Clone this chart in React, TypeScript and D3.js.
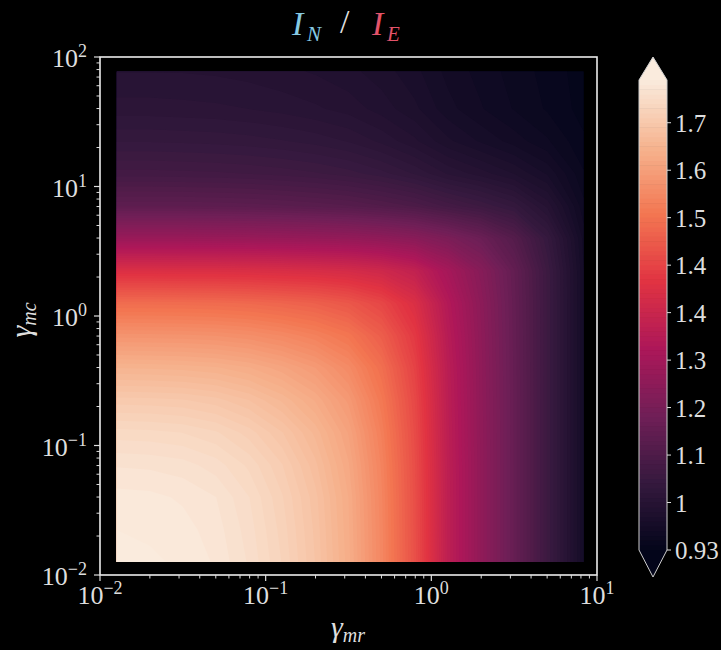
import React, { useMemo } from "react";
import * as d3 from "d3";

// log10(γ_mr) at each grid column
const logGammaMr = [-1.9, -1.7, -1.5, -1.3, -1.1, -0.9, -0.7, -0.5, -0.3, -0.1, 0.1, 0.3, 0.5, 0.7, 0.92];
// log10(γ_mc) at each grid row, bottom to top
const logGammaMc = [-1.9, -1.65, -1.4, -1.15, -0.9, -0.65, -0.4, -0.15, 0.1, 0.35, 0.6, 0.85, 1.1, 1.35, 1.6, 1.89];

// I_N / I_E on the grid: one row per γ_mc (bottom to top), one column per γ_mr
const ratioRows = [
  [1.780, 1.778, 1.776, 1.767, 1.750, 1.725, 1.691, 1.644, 1.568, 1.466, 1.330, 1.236, 1.151, 1.066, 0.973],
  [1.777, 1.776, 1.772, 1.764, 1.747, 1.722, 1.689, 1.642, 1.567, 1.465, 1.330, 1.236, 1.151, 1.066, 0.973],
  [1.772, 1.771, 1.767, 1.760, 1.743, 1.718, 1.686, 1.640, 1.565, 1.464, 1.330, 1.236, 1.151, 1.066, 0.973],
  [1.759, 1.758, 1.755, 1.747, 1.732, 1.709, 1.677, 1.633, 1.561, 1.462, 1.329, 1.236, 1.151, 1.066, 0.973],
  [1.738, 1.737, 1.734, 1.727, 1.713, 1.692, 1.663, 1.622, 1.553, 1.458, 1.327, 1.235, 1.151, 1.066, 0.973],
  [1.704, 1.703, 1.701, 1.695, 1.683, 1.664, 1.639, 1.603, 1.540, 1.452, 1.325, 1.234, 1.151, 1.066, 0.973],
  [1.657, 1.656, 1.654, 1.650, 1.641, 1.626, 1.606, 1.575, 1.522, 1.441, 1.322, 1.233, 1.150, 1.066, 0.973],
  [1.593, 1.592, 1.591, 1.588, 1.582, 1.571, 1.556, 1.534, 1.491, 1.424, 1.315, 1.231, 1.149, 1.066, 0.973],
  [1.517, 1.517, 1.516, 1.514, 1.510, 1.503, 1.494, 1.478, 1.449, 1.397, 1.305, 1.227, 1.148, 1.066, 0.973],
  [1.398, 1.398, 1.397, 1.397, 1.395, 1.392, 1.388, 1.381, 1.367, 1.339, 1.278, 1.216, 1.145, 1.065, 0.973],
  [1.253, 1.253, 1.253, 1.252, 1.251, 1.249, 1.246, 1.242, 1.234, 1.221, 1.194, 1.161, 1.115, 1.051, 0.969],
  [1.134, 1.134, 1.134, 1.133, 1.131, 1.128, 1.124, 1.119, 1.110, 1.099, 1.081, 1.066, 1.047, 1.013, 0.958],
  [1.079, 1.079, 1.078, 1.077, 1.075, 1.072, 1.068, 1.062, 1.053, 1.040, 1.023, 1.011, 0.998, 0.980, 0.948],
  [1.049, 1.049, 1.048, 1.047, 1.045, 1.042, 1.038, 1.032, 1.022, 1.009, 0.992, 0.980, 0.969, 0.957, 0.940],
  [1.028, 1.028, 1.027, 1.026, 1.024, 1.021, 1.017, 1.012, 1.003, 0.992, 0.976, 0.965, 0.955, 0.946, 0.935],
  [1.015, 1.015, 1.015, 1.014, 1.012, 1.009, 1.006, 1.001, 0.994, 0.984, 0.970, 0.961, 0.952, 0.944, 0.934],
];

// colour range of the filled contours
const levelMin = 0.93;
const levelMax = 1.777;
const levelCount = 100;

// colour bar ticks (every tenth contour level)
const cbTickValues = [0.93, 1.0156, 1.1011, 1.1867, 1.2722, 1.3578, 1.4433, 1.5289, 1.6144, 1.7];
const cbTickLabels = ["0.93", "1", "1.1", "1.2", "1.3", "1.4", "1.4", "1.5", "1.6", "1.7"];

// decades on the axes
const xDecades = [-2, -1, 0, 1];
const yDecades = [-2, -1, 0, 1, 2];

// rocket colour map stops
const rocketStops = ["#03051a", "#35193e", "#701f57", "#ad1759", "#e13342", "#f37651", "#f6b48f", "#faebdd"];

const FONT = "'Liberation Serif', 'DejaVu Serif', serif";
const INK = "#dedede";

const W = 721;
const H = 650;
const plot = { left: 100, right: 597, top: 57, bottom: 575 };
const cbar = { left: 639, right: 667, top: 80, bottom: 550, tipTop: 57, tipBottom: 577 };

function supText(e: number) {
  return e < 0 ? "\u2212" + Math.abs(e) : String(e);
}

export default function App() {
  const x = d3.scaleLog().domain([1e-2, 1e1]).range([plot.left, plot.right]);
  const y = d3.scaleLog().domain([1e-2, 1e2]).range([plot.bottom, plot.top]);

  const rocket = d3
    .scaleLinear<string>()
    .domain(rocketStops.map((_, i) => i / (rocketStops.length - 1)))
    .range(rocketStops)
    .interpolate(d3.interpolateRgb)
    .clamp(true);

  const levels = d3.range(levelCount).map((i) => levelMin + (i * (levelMax - levelMin)) / (levelCount - 1));
  const bandColor = (i: number) => {
    if (i >= levels.length - 1) return rocket(1);
    const mid = (levels[i] + levels[i + 1]) / 2;
    return rocket((mid - levelMin) / (levelMax - levelMin));
  };

  const nx = logGammaMr.length;
  const ny = logGammaMc.length;

  const { paths } = useMemo(() => {
    const flat: number[] = [];
    for (let j = ny - 1; j >= 0; j--) flat.push(...ratioRows[j]);
    const contours = d3.contours().size([nx, ny]).thresholds(levels)(flat);
    const colLog = d3.scaleLinear().domain(d3.range(nx)).range(logGammaMr);
    const rowLog = d3.scaleLinear().domain(d3.range(ny)).range(logGammaMc.slice().reverse());
    const clampIdx = (c: number, n: number) => Math.max(0, Math.min(n - 1, c - 0.5));
    const proj = d3.geoTransform({
      point(px: number, py: number) {
        this.stream.point(x(10 ** colLog(clampIdx(px, nx))), y(10 ** rowLog(clampIdx(py, ny))));
      },
    });
    const gp = d3.geoPath(proj);
    return { paths: contours.map((c, i) => ({ d: gp(c as any) || "", fill: bandColor(i) })) };
  }, []);

  const dataX0 = x(10 ** logGammaMr[0]);
  const dataX1 = x(10 ** logGammaMr[nx - 1]);
  const dataY0 = y(10 ** logGammaMc[ny - 1]);
  const dataY1 = y(10 ** logGammaMc[0]);

  const cb = d3.scaleLinear().domain([levelMin, levelMax]).range([cbar.bottom, cbar.top]);
  const cbMid = (cbar.left + cbar.right) / 2;

  const xMinor: number[] = [];
  for (let e = -2; e < 1; e++) for (let m = 2; m <= 9; m++) xMinor.push(m * 10 ** e);
  const yMinor: number[] = [];
  for (let e = -2; e < 2; e++) for (let m = 2; m <= 9; m++) yMinor.push(m * 10 ** e);

  return (
    <svg
      width={W}
      height={H}
      style={{ position: "absolute", left: 0, top: 0, background: "#000" }}
      fontFamily={FONT}
    >
      <rect x={0} y={0} width={W} height={H} fill="#000" />

      {/* title */}
      <text x={292} y={35} fontSize={34} fontStyle="italic" fill="#86c9e2">I</text>
      <text x={307} y={41} fontSize={21} fontStyle="italic" fill="#86c9e2">N</text>
      <text x={340} y={33} fontSize={34} fill={INK}>/</text>
      <text x={372} y={35} fontSize={34} fontStyle="italic" fill="#e3536a">I</text>
      <text x={387} y={41} fontSize={21} fontStyle="italic" fill="#e3536a">E</text>

      {/* filled contours */}
      <defs>
        <clipPath id="dataClip">
          <rect x={dataX0} y={dataY0} width={dataX1 - dataX0} height={dataY1 - dataY0} />
        </clipPath>
      </defs>
      <g clipPath="url(#dataClip)">
        <rect x={dataX0} y={dataY0} width={dataX1 - dataX0} height={dataY1 - dataY0} fill={bandColor(0)} />
        {paths.map((p, i) => (
          <path key={i} d={p.d} fill={p.fill} fillRule="evenodd" />
        ))}
      </g>

      {/* frame */}
      <rect
        x={plot.left}
        y={plot.top}
        width={plot.right - plot.left}
        height={plot.bottom - plot.top}
        fill="none"
        stroke="#ececec"
        strokeWidth={1.6}
      />

      {/* x ticks */}
      {xMinor.map((v, i) => (
        <line key={"xm" + i} x1={x(v)} x2={x(v)} y1={plot.bottom} y2={plot.bottom + 3.5} stroke={INK} strokeWidth={1} />
      ))}
      {xDecades.map((e) => (
        <g key={"xt" + e}>
          <line x1={x(10 ** e)} x2={x(10 ** e)} y1={plot.bottom} y2={plot.bottom + 6} stroke={INK} strokeWidth={1.2} />
          <text x={x(10 ** e)} y={604} textAnchor="middle" fontSize={26} fill={INK}>
            10<tspan dy={-10} fontSize={18}>{supText(e)}</tspan>
          </text>
        </g>
      ))}

      {/* y ticks */}
      {yMinor.map((v, i) => (
        <line key={"ym" + i} x1={plot.left - 3.5} x2={plot.left} y1={y(v)} y2={y(v)} stroke={INK} strokeWidth={1} />
      ))}
      {yDecades.map((e) => (
        <g key={"yt" + e}>
          <line x1={plot.left - 6} x2={plot.left} y1={y(10 ** e)} y2={y(10 ** e)} stroke={INK} strokeWidth={1.2} />
          <text x={87} y={y(10 ** e) + 10} textAnchor="end" fontSize={26} fill={INK}>
            10<tspan dy={-10} fontSize={18}>{supText(e)}</tspan>
          </text>
        </g>
      ))}

      {/* axis labels */}
      <text x={348} y={637} textAnchor="middle" fontSize={30} fontStyle="italic" fill={INK}>
        γ<tspan dy={5} fontSize={20}>mr</tspan>
      </text>
      <text
        transform="translate(31,320) rotate(-90)"
        textAnchor="middle"
        fontSize={30}
        fontStyle="italic"
        fill={INK}
      >
        γ<tspan dy={5} fontSize={20}>mc</tspan>
      </text>

      {/* colour bar */}
      {levels.slice(0, -1).map((lv, i) => (
        <rect
          key={"cb" + i}
          x={cbar.left}
          y={cb(levels[i + 1]) - 0.3}
          width={cbar.right - cbar.left}
          height={cb(lv) - cb(levels[i + 1]) + 0.6}
          fill={bandColor(i)}
        />
      ))}
      <path
        d={`M${cbar.left},${cbar.top} L${cbMid},${cbar.tipTop} L${cbar.right},${cbar.top} Z`}
        fill={rocket(1)}
      />
      <path
        d={`M${cbar.left},${cbar.bottom} L${cbMid},${cbar.tipBottom} L${cbar.right},${cbar.bottom} Z`}
        fill={rocket(0)}
      />
      <path
        d={`M${cbar.left},${cbar.top} L${cbMid},${cbar.tipTop} L${cbar.right},${cbar.top} L${cbar.right},${cbar.bottom} L${cbMid},${cbar.tipBottom} L${cbar.left},${cbar.bottom} Z`}
        fill="none"
        stroke="#cfcfcf"
        strokeWidth={1}
      />
      {cbTickValues.map((v, i) => (
        <g key={"cbt" + i}>
          <line x1={cbar.right} x2={cbar.right + 4} y1={cb(v)} y2={cb(v)} stroke={INK} strokeWidth={1} />
          <text x={cbar.right + 8} y={cb(v) + 9} fontSize={25} fill={INK}>
            {cbTickLabels[i]}
          </text>
        </g>
      ))}
    </svg>
  );
}
